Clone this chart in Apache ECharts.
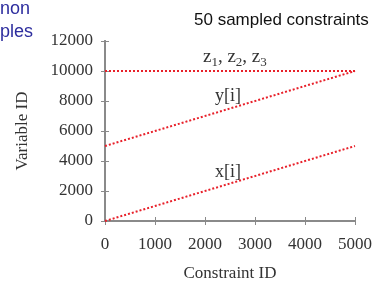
<!DOCTYPE html>
<html>
<head>
<meta charset="utf-8">
<script src="https://cdn.jsdelivr.net/npm/echarts@6/dist/echarts.min.js"></script>
<style>
  html, body { margin: 0; padding: 0; background: #fff; }
  #chart { width: 375px; height: 287px; }
</style>
</head>
<body>
<div id="chart"></div>
<script>
// data
const constraintIds = [0, 5000]
const xVals = [0, 5000]
const yVals = [5000, 10000]
const zVals = [10000, 10000]

const serif = '"Liberation Serif", "DejaVu Serif", serif'
const sans = 'Arial, "Liberation Sans", sans-serif'
const red = '#e8202a'
const ink = '#333'

const chart = echarts.init(document.getElementById('chart'))

const mkSeries = (name, vals) => ({
  name: name,
  type: 'line',
  data: constraintIds.map((c, i) => [c, vals[i]]),
  showSymbol: false,
  lineStyle: { color: red, width: 2, type: [2, 2] },
  animation: false
})

const axisCommon = {
  type: 'value',
  axisLine: { show: true, lineStyle: { color: '#8a8a8a', width: 2 } },
  axisTick: { show: true, inside: true, length: 4, lineStyle: { color: '#8a8a8a' } },
  splitLine: { show: false },
  axisLabel: { color: ink, fontFamily: serif, fontSize: 17, formatter: v => String(v) }
}

const option = {
  title: {
    text: '50 sampled constraints',
    left: 189, top: 7,
    textStyle: { fontFamily: sans, fontSize: 17, fontWeight: 'normal', color: '#111' }
  },
  grid: { left: 105, right: 20, top: 41, bottom: 61 },
  xAxis: [
    Object.assign({}, axisCommon, {
      min: 0, max: 5000, interval: 1000,
      name: 'Constraint ID', nameLocation: 'middle', nameGap: 44,
      nameTextStyle: { fontFamily: serif, fontSize: 17, color: ink },
      axisLabel: Object.assign({}, axisCommon.axisLabel, { margin: 15 })
    }),
    Object.assign({}, axisCommon, {
      position: 'top', min: 0, max: 5000, interval: 1000,
      axisLabel: { show: false }
    })
  ],
  yAxis: [
    Object.assign({}, axisCommon, {
      min: 0, max: 12000, interval: 2000,
      name: 'Variable ID', nameLocation: 'middle', nameGap: 74,
      nameTextStyle: { fontFamily: serif, fontSize: 17, color: ink },
      axisLabel: Object.assign({}, axisCommon.axisLabel, { margin: 12 })
    }),
    Object.assign({}, axisCommon, {
      position: 'right', min: 0, max: 12000, interval: 2000,
      axisLabel: { show: false }
    })
  ],
  graphic: [
    { type: 'text', left: 0, top: 0, style: { text: 'non', fill: '#2d2d9e', font: '18px ' + sans } },
    { type: 'text', left: 0, top: 23, style: { text: 'ples', fill: '#2d2d9e', font: '18px ' + sans } },
    {
      type: 'text', left: 203, top: 48,
      style: {
        text: '{t|z}{s|1}{t|, z}{s|2}{t|, z}{s|3}',
        rich: {
          t: { fontFamily: serif, fontSize: 19, fill: ink },
          s: { fontFamily: serif, fontSize: 13, fill: ink, padding: [10, 0, 0, 0] }
        }
      }
    },
    { type: 'text', left: 215, top: 87, style: { text: 'y[i]', fill: ink, font: '18px ' + serif } },
    { type: 'text', left: 215, top: 163, style: { text: 'x[i]', fill: ink, font: '18px ' + serif } }
  ],
  series: [
    mkSeries('z', zVals),
    mkSeries('y', yVals),
    mkSeries('x', xVals)
  ]
}

chart.setOption(option)
</script>
</body>
</html>
